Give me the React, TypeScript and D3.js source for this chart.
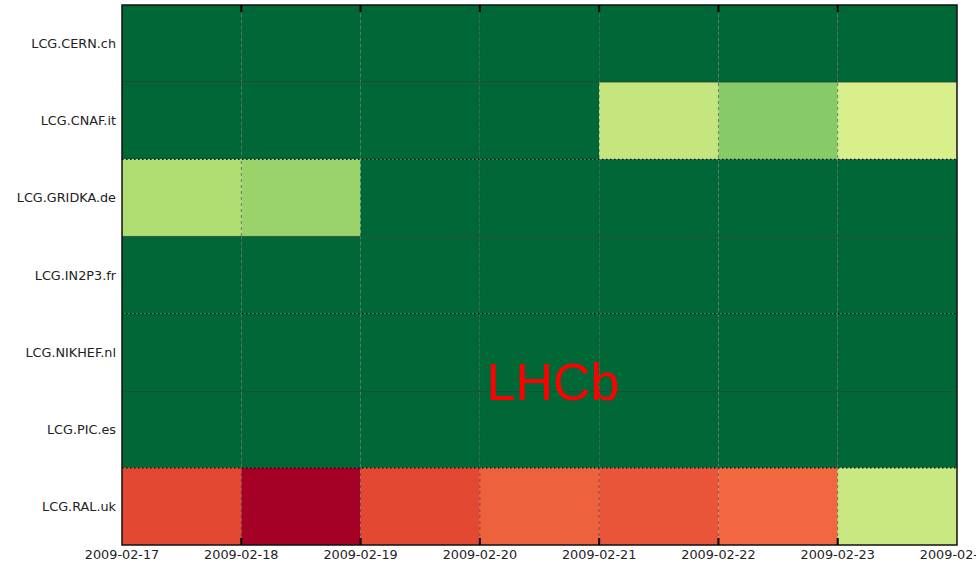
import React, { useEffect, useRef } from 'react';
import * as d3 from 'd3';

// sites, top to bottom
const sites = [
  'LCG.CERN.ch',
  'LCG.CNAF.it',
  'LCG.GRIDKA.de',
  'LCG.IN2P3.fr',
  'LCG.NIKHEF.nl',
  'LCG.PIC.es',
  'LCG.RAL.uk',
];

// one column per day, the last label closes the range
const days = ['2009-02-17', '2009-02-18', '2009-02-19', '2009-02-20', '2009-02-21', '2009-02-22', '2009-02-23'];
const tickLabels = [...days, '2009-02-24'];

// quality (%) per site, per day
const cernQuality = [100, 100, 100, 100, 100, 100, 100];
const cnafQuality = [100, 100, 100, 100, 64, 75, 60];
const gridkaQuality = [68, 72, 100, 100, 100, 100, 100];
const in2p3Quality = [100, 100, 100, 100, 100, 100, 100];
const nikhefQuality = [100, 100, 100, 100, 100, 100, 100];
const picQuality = [100, 100, 100, 100, 100, 100, 100];
const ralQuality = [14, 0, 14, 18, 16, 19, 63];

const quality = [cernQuality, cnafQuality, gridkaQuality, in2p3Quality, nikhefQuality, picQuality, ralQuality];

const App = () => {
  const ref = useRef<SVGSVGElement | null>(null);

  const width = 976, height = 567;
  const marginLeft = 122, marginRight = 19, marginTop = 5, marginBottom = 22;

  useEffect(() => {
    const svg = d3.select(ref.current);
    svg.selectAll('*').remove();

    const parse = d3.utcParse('%Y-%m-%d');
    const x = d3.scaleUtc()
      .domain([parse(tickLabels[0])!, parse(tickLabels[tickLabels.length - 1])!])
      .range([marginLeft, width - marginRight]);

    const y = d3.scaleBand()
      .domain(sites)
      .range([marginTop, height - marginBottom]);

    // matplotlib-style RdYlGn: linear through the 11 brewer stops
    const stops = d3.schemeRdYlGn[11];
    const color = d3.scaleLinear<string>()
      .domain(stops.map((_, i) => i * 10))
      .range(stops as string[]);

    const cells = sites.flatMap((site, i) =>
      days.map((day, j) => ({ site, day, value: quality[i][j] }))
    );

    const nextDay = (d: string) => d3.utcDay.offset(parse(d)!, 1);

    svg.append('g')
      .selectAll('rect')
      .data(cells)
      .join('rect')
      .attr('x', d => x(parse(d.day)!))
      .attr('y', d => y(d.site)!)
      .attr('width', d => x(nextDay(d.day)) - x(parse(d.day)!))
      .attr('height', y.bandwidth())
      .attr('fill', d => color(d.value));

    const plotRight = width - marginRight;
    const plotBottom = height - marginBottom;

    // row edges
    sites.slice(1).forEach((s, i) => {
      const yy = y(s)!;
      if (i % 2 === 0) {
        svg.append('line')
          .attr('x1', marginLeft).attr('x2', plotRight)
          .attr('y1', yy).attr('y2', yy)
          .attr('stroke', '#1a1a1a').attr('stroke-opacity', 0.55).attr('stroke-width', 1);
      } else {
        svg.append('line')
          .attr('x1', marginLeft).attr('x2', plotRight)
          .attr('y1', yy).attr('y2', yy)
          .attr('stroke', '#000').attr('stroke-width', 1.2)
          .attr('stroke-dasharray', '1.5,2.5');
      }
    });

    // vertical grid
    const ticks = tickLabels.map(t => parse(t)!);
    svg.append('g')
      .selectAll('line')
      .data(ticks.slice(1, -1))
      .join('line')
      .attr('x1', d => x(d)).attr('x2', d => x(d))
      .attr('y1', marginTop).attr('y2', plotBottom)
      .attr('stroke', '#333').attr('stroke-opacity', 0.7).attr('stroke-width', 0.8)
      .attr('stroke-dasharray', '3,3');

    // frame
    svg.append('rect')
      .attr('x', marginLeft).attr('y', marginTop)
      .attr('width', plotRight - marginLeft).attr('height', plotBottom - marginTop)
      .attr('fill', 'none').attr('stroke', '#111').attr('stroke-width', 1.5);

    // tick marks, top and bottom, pointing inwards
    const tickG = svg.append('g').attr('stroke', '#000').attr('stroke-width', 2);
    ticks.slice(1, -1).forEach(t => {
      tickG.append('line').attr('x1', x(t)).attr('x2', x(t)).attr('y1', marginTop).attr('y2', marginTop + 7);
      tickG.append('line').attr('x1', x(t)).attr('x2', x(t)).attr('y1', plotBottom).attr('y2', plotBottom - 7);
    });

    // x labels
    svg.append('g')
      .selectAll('text')
      .data(tickLabels)
      .join('text')
      .attr('x', d => x(parse(d)!))
      .attr('y', plotBottom + 14)
      .attr('text-anchor', 'middle')
      .attr('font-family', 'DejaVu Sans')
      .attr('font-size', 12.8)
      .attr('fill', '#222')
      .text(d => d);

    // y labels
    svg.append('g')
      .selectAll('text')
      .data(sites)
      .join('text')
      .attr('x', marginLeft - 6)
      .attr('y', d => y(d)! + y.bandwidth() / 2)
      .attr('dy', '0.36em')
      .attr('text-anchor', 'end')
      .attr('font-family', 'DejaVu Sans')
      .attr('font-size', 12.8)
      .attr('fill', '#222')
      .text(d => d);

    // watermark
    svg.append('text')
      .attr('x', 553)
      .attr('y', 400)
      .attr('text-anchor', 'middle')
      .attr('font-family', 'Liberation Sans')
      .attr('font-size', 52)
      .attr('fill', '#ff0000')
      .text('LHCb');
  }, []);

  return (
    <svg
      ref={ref}
      width={width}
      height={height}
      style={{ position: 'absolute', left: 0, top: 0, background: '#fff' }}
    />
  );
};

export default App;
